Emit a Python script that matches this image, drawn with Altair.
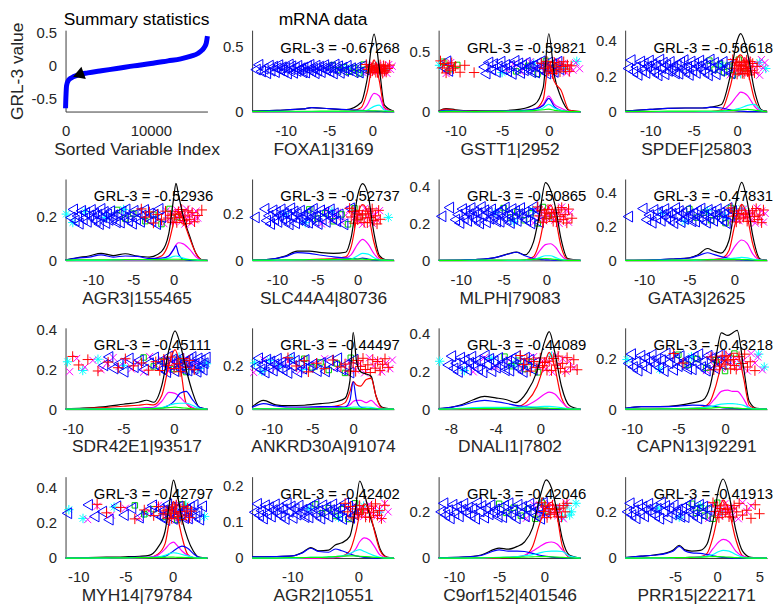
import altair as alt
import pandas as pd

FONT = "Liberation Sans"
TXT = "#262626"

# ---------------- summary panel ----------------
SUM_IDX = [0, 20, 60, 120, 300, 600, 900, 1500, 2600, 4200, 6000, 8000, 10000, 12000, 13500, 14700, 15500, 16000, 16300, 16500, 16630]
SUM_VAL = [-0.64, -0.55, -0.42, -0.30, -0.23, -0.19, -0.17, -0.14, -0.11, -0.078, -0.045, -0.005, 0.03, 0.07, 0.10, 0.14, 0.18, 0.23, 0.28, 0.34, 0.44]
ARROW_IDX = [1500]
ARROW_VAL = [-0.14]

# ---------------- gene panels ----------------
GENES = ["FOXA1|3169", "GSTT1|2952", "SPDEF|25803", "AGR3|155465", "SLC44A4|80736",
         "MLPH|79083", "GATA3|2625", "SDR42E1|93517", "ANKRD30A|91074", "DNALI1|7802",
         "CAPN13|92291", "MYH14|79784", "AGR2|10551", "C9orf152|401546", "PRR15|222171"]
GRL = [-0.67268, -0.59821, -0.56618, -0.52936, -0.52737, -0.50865, -0.47831, -0.45111,
       -0.44497, -0.44089, -0.43218, -0.42797, -0.42402, -0.42046, -0.41913]
XMIN = [-13.9, -11.8, -12.9, -13.4, -13.1, -12.6, -12.1, -10.7, -12.4, -9.1, -10.7, -11.35, -16.1, -11.7, -10.9]
XMAX = [2.5, 3.4, 3.45, 4.2, 4.5, 4.0, 3.6, 3.3, 5.0, 3.6, 4.5, 3.7, 5.4, 4.0, 5.9]
YMAX = [0.63, 0.68, 0.46, 0.37, 0.35, 0.44, 0.48, 0.41, 0.37, 0.43, 0.32, 0.46, 0.225, 0.35, 0.35]
XTICKS = [[-10, -5, 0]] * 9 + [[-8, -4, 0], [-10, -5, 0], [-10, -5, 0], [-10, 0], [-10, -5, 0], [-5, 0, 5]]
YTICKS = [[0, 0.5], [0, 0.5], [0, 0.2, 0.4], [0, 0.2], [0, 0.2], [0, 0.2, 0.4], [0, 0.2, 0.4],
          [0, 0.2, 0.4], [0, 0.2], [0, 0.2, 0.4], [0, 0.2], [0, 0.2, 0.4], [0, 0.1, 0.2], [0, 0.2], [0, 0.2]]

CX = [
    [-13.9, -11, -8, -7, -5, -3, -1.3, -0.6, 0.2, 0.8, 1.4, 2.5],
    [-11.8, -11, -10, -8, -5, -3, -1.5, -0.6, 0, 0.6, 1.3, 2.2, 3.4],
    [-12.9, -10, -8, -6, -4, -3, -1.8, -0.8, 0, 0.4, 1.2, 2.0, 2.8, 3.45],
    [-13.4, -12, -10.5, -9, -7.5, -6, -4.5, -3, -1.5, -0.6, 0, 0.3, 0.6, 1.2, 2.0, 2.8, 3.5, 4.2],
    [-13.1, -11, -9, -7.5, -6, -4.5, -3, -1.5, -0.8, 0, 0.6, 1.3, 2.0, 2.7, 3.5, 4.5],
    [-12.6, -10, -8, -6, -4.5, -3.5, -2.5, -1.5, -0.8, -0.1, 0.5, 1.1, 1.7, 2.5, 4.0],
    [-12.1, -9, -7, -5, -4, -3, -2.3, -1.5, -0.6, 0, 0.8, 1.4, 2.0, 2.8, 3.6],
    [-10.7, -9, -7, -5, -3.5, -2.7, -2, -1.2, -0.5, 0.1, 0.6, 1.2, 1.8, 2.5, 3.3],
    [-12.4, -11, -9.5, -8, -6, -4, -2, -1, -0.4, 0, 0.4, 0.9, 1.6, 2.2, 2.8, 3.5, 5.0],
    [-9.1, -8, -7, -6, -5, -4, -3, -2.2, -1.2, -0.3, 0.4, 0.8, 1.3, 1.9, 2.6, 3.6],
    [-10.7, -9, -7, -5, -3.5, -2.4, -1.6, -1, -0.4, 0.3, 0.8, 1.3, 2.0, 2.6, 3.4, 4.5],
    [-11.35, -9, -7, -5, -3.5, -2.5, -1.6, -0.8, -0.3, 0.1, 0.5, 1.0, 1.6, 2.2, 2.8, 3.7],
    [-16.1, -13, -10, -8.5, -7.2, -6, -4.5, -3.5, -2.5, -1.3, -0.4, 0.2, 0.9, 1.7, 2.5, 3.3, 4.3, 5.4],
    [-11.7, -9, -7, -5, -4, -3, -2.2, -1.3, -0.5, 0.2, 0.8, 1.4, 2.0, 2.8, 4.0],
    [-10.9, -9, -7.5, -6, -5.2, -4.5, -3.8, -3, -2, -1.2, -0.5, 0.2, 0.7, 1.4, 2.2, 3, 4, 5.9],
]
BLACK = [
    [0.003, 0.01, 0.02, 0.03, 0.022, 0.015, 0.07, 0.25, 0.60, 0.34, 0.05, 0.002],
    [0.005, 0.025, 0.015, 0.005, 0.008, 0.02, 0.06, 0.2, 0.65, 0.3, 0.12, 0.01, 0],
    [0.003, 0.012, 0.018, 0.02, 0.02, 0.025, 0.04, 0.2, 0.4, 0.44, 0.33, 0.12, 0.01, 0.002],
    [0.002, 0.012, 0.02, 0.032, 0.022, 0.03, 0.02, 0.015, 0.04, 0.12, 0.28, 0.35, 0.3, 0.2, 0.11, 0.03, 0.003, 0],
    [0.001, 0.004, 0.018, 0.04, 0.04, 0.033, 0.03, 0.035, 0.1, 0.28, 0.33, 0.28, 0.12, 0.02, 0.002, 0],
    [0, 0.002, 0.005, 0.015, 0.035, 0.045, 0.03, 0.1, 0.25, 0.42, 0.38, 0.28, 0.12, 0.01, 0],
    [0, 0.003, 0.008, 0.015, 0.035, 0.07, 0.055, 0.043, 0.12, 0.3, 0.46, 0.35, 0.15, 0.01, 0],
    [0.002, 0.005, 0.012, 0.025, 0.035, 0.045, 0.035, 0.12, 0.3, 0.395, 0.33, 0.2, 0.09, 0.01, 0],
    [0.01, 0.04, 0.02, 0.016, 0.018, 0.025, 0.035, 0.05, 0.13, 0.35, 0.22, 0.17, 0.16, 0.15, 0.06, 0.01, 0],
    [0.003, 0.01, 0.025, 0.05, 0.068, 0.06, 0.05, 0.035, 0.09, 0.2, 0.36, 0.41, 0.3, 0.12, 0.02, 0],
    [0.003, 0.01, 0.01, 0.015, 0.025, 0.035, 0.09, 0.2, 0.3, 0.29, 0.3, 0.31, 0.16, 0.03, 0.003, 0],
    [0.001, 0.003, 0.005, 0.007, 0.01, 0.015, 0.056, 0.15, 0.32, 0.44, 0.36, 0.22, 0.11, 0.04, 0.005, 0],
    [0.003, 0.004, 0.006, 0.015, 0.029, 0.02, 0.022, 0.036, 0.042, 0.06, 0.14, 0.213, 0.18, 0.12, 0.075, 0.025, 0.003, 0],
    [0.002, 0.004, 0.013, 0.043, 0.038, 0.05, 0.069, 0.13, 0.26, 0.336, 0.3, 0.2, 0.08, 0.012, 0],
    [0.002, 0.008, 0.013, 0.022, 0.035, 0.055, 0.035, 0.03, 0.033, 0.06, 0.16, 0.3, 0.34, 0.27, 0.12, 0.03, 0.003, 0],
]
RED = [
    [0, 0, 0, 0, 0, 0, 0.03, 0.15, 0.40, 0.24, 0.03, 0],
    [0.003, 0.02, 0.01, 0.002, 0.002, 0.005, 0.02, 0.1, 0.40, 0.25, 0.18, 0.01, 0],
    [0, 0, 0, 0, 0, 0, 0.01, 0.14, 0.30, 0.32, 0.23, 0.07, 0.005, 0],
    [0, 0, 0, 0, 0, 0.002, 0.003, 0.005, 0.02, 0.08, 0.17, 0.21, 0.22, 0.18, 0.1, 0.03, 0.002, 0],
    [0, 0, 0, 0.002, 0.003, 0.005, 0.008, 0.015, 0.06, 0.2, 0.24, 0.2, 0.08, 0.012, 0.001, 0],
    [0, 0, 0, 0, 0, 0, 0.002, 0.02, 0.1, 0.25, 0.30, 0.22, 0.08, 0.005, 0],
    [0, 0, 0, 0, 0, 0.002, 0.005, 0.01, 0.06, 0.2, 0.33, 0.26, 0.1, 0.005, 0],
    [0.001, 0.003, 0.008, 0.015, 0.02, 0.025, 0.022, 0.07, 0.22, 0.3, 0.22, 0.03, 0.005, 0, 0],
    [0, 0.002, 0.003, 0.004, 0.005, 0.008, 0.015, 0.03, 0.08, 0.125, 0.11, 0.105, 0.135, 0.14, 0.06, 0.005, 0],
    [0, 0, 0.001, 0.002, 0.003, 0.004, 0.006, 0.01, 0.04, 0.12, 0.24, 0.3, 0.22, 0.06, 0.005, 0],
    [0, 0, 0, 0.001, 0.003, 0.008, 0.03, 0.09, 0.17, 0.2, 0.22, 0.22, 0.12, 0.015, 0.001, 0],
    [0, 0, 0, 0.001, 0.002, 0.003, 0.02, 0.08, 0.22, 0.32, 0.24, 0.12, 0.02, 0.002, 0, 0],
    [0, 0, 0, 0, 0, 0, 0.001, 0.002, 0.005, 0.02, 0.07, 0.12, 0.15, 0.13, 0.07, 0.02, 0.002, 0],
    [0, 0, 0, 0.001, 0.002, 0.004, 0.01, 0.05, 0.15, 0.22, 0.24, 0.18, 0.05, 0.003, 0],
    [0, 0, 0, 0, 0.001, 0.001, 0.002, 0.003, 0.005, 0.02, 0.09, 0.2, 0.25, 0.2, 0.08, 0.01, 0, 0],
]
MAGENTA = [
    [0, 0, 0, 0, 0, 0, 0.005, 0.05, 0.14, 0.12, 0.02, 0],
    [0, 0.005, 0.003, 0, 0.002, 0.005, 0.02, 0.06, 0.13, 0.06, 0.03, 0.002, 0],
    [0, 0, 0, 0, 0, 0, 0.005, 0.04, 0.09, 0.11, 0.09, 0.03, 0.002, 0],
    [0, 0, 0, 0, 0, 0, 0, 0.002, 0.005, 0.02, 0.05, 0.07, 0.08, 0.075, 0.05, 0.015, 0.001, 0],
    [0, 0, 0, 0, 0.002, 0.003, 0.005, 0.01, 0.025, 0.07, 0.09, 0.07, 0.03, 0.005, 0, 0],
    [0, 0, 0, 0, 0, 0, 0.002, 0.01, 0.05, 0.085, 0.09, 0.07, 0.03, 0.002, 0],
    [0, 0, 0, 0, 0.002, 0.005, 0.006, 0.008, 0.03, 0.08, 0.12, 0.1, 0.04, 0.003, 0],
    [0, 0, 0.001, 0.003, 0.005, 0.008, 0.01, 0.04, 0.085, 0.08, 0.06, 0.03, 0.01, 0.001, 0],
    [0, 0.002, 0.003, 0.003, 0.004, 0.005, 0.007, 0.01, 0.02, 0.035, 0.04, 0.04, 0.03, 0.04, 0.02, 0.002, 0],
    [0, 0, 0.001, 0.002, 0.004, 0.005, 0.006, 0.008, 0.02, 0.05, 0.08, 0.09, 0.08, 0.04, 0.005, 0],
    [0, 0, 0, 0.001, 0.002, 0.005, 0.02, 0.045, 0.07, 0.075, 0.07, 0.07, 0.04, 0.005, 0, 0],
    [0, 0, 0, 0.001, 0.002, 0.004, 0.015, 0.05, 0.08, 0.09, 0.07, 0.04, 0.015, 0.003, 0, 0],
    [0, 0, 0, 0, 0, 0, 0.001, 0.002, 0.004, 0.01, 0.025, 0.045, 0.056, 0.05, 0.03, 0.008, 0.001, 0],
    [0, 0, 0, 0.002, 0.003, 0.006, 0.012, 0.03, 0.05, 0.065, 0.069, 0.06, 0.035, 0.005, 0],
    [0, 0, 0, 0, 0.001, 0.002, 0.002, 0.003, 0.005, 0.01, 0.04, 0.07, 0.08, 0.07, 0.03, 0.008, 0.001, 0],
]
BLUE = [
    [0.003, 0.01, 0.02, 0.03, 0.022, 0.015, 0.01, 0.004, 0.002, 0.001, 0, 0],
    [0.002, 0.01, 0.005, 0.002, 0.003, 0.008, 0.02, 0.05, 0.11, 0.04, 0.01, 0, 0],
    [0.003, 0.012, 0.018, 0.02, 0.02, 0.025, 0.02, 0.01, 0.004, 0.002, 0, 0, 0, 0],
    [0.002, 0.01, 0.015, 0.025, 0.015, 0.02, 0.018, 0.008, 0.01, 0.02, 0.05, 0.067, 0.03, 0.005, 0, 0, 0, 0],
    [0.001, 0.004, 0.016, 0.033, 0.03, 0.022, 0.015, 0.01, 0.008, 0.006, 0.01, 0.006, 0.002, 0, 0, 0],
    [0, 0.002, 0.005, 0.015, 0.033, 0.044, 0.025, 0.01, 0.005, 0.003, 0.002, 0.001, 0, 0, 0],
    [0, 0.003, 0.008, 0.014, 0.028, 0.045, 0.035, 0.022, 0.012, 0.006, 0.003, 0.001, 0, 0, 0],
    [0, 0, 0.001, 0.002, 0.003, 0.004, 0.004, 0.006, 0.02, 0.045, 0.08, 0.09, 0.05, 0.01, 0],
    [0.008, 0.025, 0.015, 0.01, 0.01, 0.012, 0.012, 0.01, 0.04, 0.125, 0.04, 0.01, 0.004, 0.002, 0.001, 0, 0],
    [0.003, 0.01, 0.02, 0.038, 0.047, 0.04, 0.03, 0.02, 0.012, 0.006, 0.003, 0.002, 0.001, 0, 0, 0],
    [0.003, 0.01, 0.01, 0.012, 0.016, 0.015, 0.012, 0.01, 0.006, 0.004, 0.003, 0.002, 0.001, 0, 0, 0],
    [0, 0.001, 0.002, 0.003, 0.004, 0.004, 0.006, 0.01, 0.025, 0.04, 0.055, 0.067, 0.055, 0.025, 0.004, 0],
    [0.003, 0.004, 0.006, 0.014, 0.027, 0.018, 0.016, 0.025, 0.02, 0.012, 0.006, 0.004, 0.002, 0.001, 0, 0, 0, 0],
    [0.002, 0.004, 0.011, 0.035, 0.03, 0.03, 0.028, 0.02, 0.012, 0.007, 0.004, 0.002, 0.001, 0, 0],
    [0.002, 0.008, 0.012, 0.02, 0.03, 0.05, 0.03, 0.022, 0.02, 0.015, 0.01, 0.005, 0.003, 0.001, 0, 0, 0, 0],
]
CYAN = [
    [0, 0, 0, 0, 0, 0, 0.002, 0.01, 0.04, 0.05, 0.01, 0],
    [0, 0.002, 0.001, 0, 0.001, 0.003, 0.01, 0.03, 0.06, 0.03, 0.01, 0, 0],
    [0, 0, 0, 0, 0, 0, 0.001, 0.005, 0.015, 0.02, 0.035, 0.04, 0.005, 0],
    [0, 0, 0, 0, 0.002, 0.003, 0.003, 0.003, 0.005, 0.01, 0.018, 0.02, 0.018, 0.01, 0.004, 0.001, 0, 0],
    [0, 0, 0.001, 0.002, 0.003, 0.003, 0.003, 0.004, 0.006, 0.02, 0.03, 0.027, 0.012, 0.002, 0, 0],
    [0, 0, 0, 0, 0, 0, 0.001, 0.005, 0.015, 0.025, 0.025, 0.015, 0.005, 0, 0],
    [0, 0, 0, 0, 0.001, 0.004, 0.005, 0.006, 0.01, 0.013, 0.018, 0.015, 0.008, 0.001, 0],
    [0, 0, 0, 0.001, 0.002, 0.003, 0.004, 0.008, 0.02, 0.028, 0.03, 0.03, 0.02, 0.004, 0],
    [0, 0.002, 0.003, 0.003, 0.003, 0.004, 0.004, 0.006, 0.008, 0.01, 0.01, 0.01, 0.01, 0.008, 0.004, 0.001, 0],
    [0, 0.002, 0.005, 0.008, 0.01, 0.01, 0.01, 0.01, 0.012, 0.013, 0.015, 0.015, 0.013, 0.008, 0.002, 0],
    [0, 0, 0.001, 0.002, 0.004, 0.006, 0.01, 0.015, 0.02, 0.022, 0.022, 0.02, 0.015, 0.005, 0.001, 0],
    [0, 0, 0, 0.001, 0.002, 0.003, 0.006, 0.015, 0.025, 0.03, 0.027, 0.02, 0.012, 0.004, 0, 0],
    [0, 0, 0, 0.001, 0.002, 0.002, 0.003, 0.004, 0.006, 0.012, 0.02, 0.023, 0.018, 0.012, 0.006, 0.002, 0, 0],
    [0, 0, 0.001, 0.003, 0.004, 0.006, 0.01, 0.015, 0.022, 0.028, 0.03, 0.03, 0.028, 0.008, 0],
    [0, 0, 0, 0.001, 0.001, 0.002, 0.002, 0.003, 0.004, 0.008, 0.015, 0.028, 0.033, 0.03, 0.015, 0.004, 0, 0],
]
GREEN = [
    [0.001, 0.002, 0.002, 0.002, 0.003, 0.003, 0.005, 0.006, 0.005, 0.004, 0.002, 0.001],
    [0, 0.001, 0.001, 0, 0.002, 0.004, 0.008, 0.015, 0.02, 0.01, 0.004, 0, 0],
    [0.001, 0.001, 0.002, 0.002, 0.003, 0.003, 0.004, 0.006, 0.008, 0.01, 0.012, 0.008, 0.002, 0],
    [0.001, 0.002, 0.002, 0.002, 0.002, 0.003, 0.003, 0.003, 0.004, 0.005, 0.005, 0.005, 0.005, 0.004, 0.003, 0.002, 0.001, 0],
    [0.001, 0.001, 0.002, 0.002, 0.003, 0.003, 0.004, 0.004, 0.005, 0.005, 0.005, 0.004, 0.003, 0.002, 0.001, 0],
    [0, 0, 0.001, 0.001, 0.002, 0.002, 0.003, 0.005, 0.008, 0.01, 0.008, 0.005, 0.002, 0, 0],
    [0, 0, 0.001, 0.002, 0.003, 0.004, 0.005, 0.005, 0.006, 0.006, 0.005, 0.004, 0.002, 0, 0],
    [0, 0, 0, 0.001, 0.002, 0.002, 0.003, 0.005, 0.008, 0.01, 0.008, 0.005, 0.002, 0, 0],
    [0.001, 0.002, 0.002, 0.002, 0.002, 0.003, 0.003, 0.004, 0.004, 0.004, 0.004, 0.003, 0.003, 0.002, 0.002, 0.001, 0],
    [0, 0.001, 0.002, 0.003, 0.004, 0.004, 0.004, 0.005, 0.005, 0.006, 0.006, 0.005, 0.004, 0.002, 0, 0],
    [0, 0, 0.001, 0.001, 0.002, 0.003, 0.004, 0.006, 0.007, 0.006, 0.005, 0.004, 0.002, 0.001, 0, 0],
    [0, 0, 0.001, 0.001, 0.002, 0.002, 0.003, 0.004, 0.005, 0.005, 0.004, 0.004, 0.003, 0.001, 0, 0],
    [0, 0, 0.001, 0.001, 0.002, 0.002, 0.003, 0.004, 0.005, 0.006, 0.006, 0.005, 0.004, 0.003, 0.002, 0.001, 0, 0],
    [0, 0, 0.001, 0.002, 0.003, 0.003, 0.004, 0.005, 0.006, 0.006, 0.005, 0.004, 0.003, 0.001, 0],
    [0, 0, 0.001, 0.001, 0.002, 0.002, 0.002, 0.003, 0.004, 0.005, 0.006, 0.006, 0.005, 0.004, 0.002, 0.001, 0, 0],
]

# marker bands: centre height and half-spread per panel
MK_Y = [0.33, 0.37, 0.25, 0.20, 0.19, 0.245, 0.265, 0.227, 0.20, 0.24, 0.185, 0.26, 0.13, 0.204, 0.204]
MK_S = [0.035, 0.055, 0.045, 0.035, 0.035, 0.045, 0.045, 0.04, 0.035, 0.045, 0.035, 0.045, 0.022, 0.035, 0.035]
JITTER = [0.3, -0.8, 0.62, -0.15, 0.9, -0.55, 0.05, -0.95, 0.72, -0.38, 0.48, -0.7, 0.12, 0.84, -0.28,
          0.36, -0.62, 0.22, -1.0, 0.97, -0.1, 0.58, -0.86, 0.26, -0.45, 0.68, -0.22, 0.15, -0.76]

TRI_X = [
    [-13.5, -13.2, -12.9, -12.6, -12.3, -12.0, -11.8, -11.5, -11.3, -11.1, -10.9, -10.7, -10.5, -10.3, -10.1, -9.9, -9.7, -9.5, -9.4, -9.2, -9.0, -8.8, -8.7, -8.5, -8.3, -8.1, -8.0, -7.8, -7.6, -7.4, -7.3, -7.1, -6.9, -6.7, -6.6, -6.4, -6.2, -6.0, -5.8, -5.6, -5.4, -5.2, -5.0, -4.8, -4.6, -4.4, -4.2, -4.0, -3.8, -3.5, -3.3, -3.0, -2.8, -2.5, -2.2, -1.9, -1.6, -1.2, -0.9],
    [-11.2, -11.0, -10.8, -7.0, -6.8, -6.5, -6.2, -6.0, -5.7, -5.5, -5.2, -5.0, -4.7, -4.5, -4.2, -4.0, -3.7, -3.5, -3.3, -3.1, -2.9, -2.7, -2.5, -2.3, -2.1, -1.9, -1.7, -1.5, -1.3, -1.1, -0.9, -0.7, -0.5, -0.3, -0.1, 0.1, 0.3, 0.5, 0.7, 0.9, 1.1],
    [-12.6, -12.3, -12.0, -11.7, -11.5, -11.2, -11.0, -10.8, -10.6, -10.4, -10.2, -10.0, -9.8, -9.6, -9.4, -9.2, -9.0, -8.8, -8.6, -8.4, -8.2, -8.0, -7.8, -7.6, -7.4, -7.2, -7.0, -6.8, -6.6, -6.4, -6.2, -6.0, -5.8, -5.6, -5.4, -5.2, -5.0, -4.8, -4.6, -4.4, -4.2, -4.0, -3.8, -3.6, -3.4, -3.2, -3.0, -2.7, -2.5, -2.2, -2.0, -1.7, -1.4, -1.1, -0.8],
    [-12.8, -12.5, -12.3, -12.0, -11.8, -11.5, -11.3, -11.0, -10.8, -10.5, -10.3, -10.1, -9.9, -9.7, -9.5, -9.3, -9.1, -8.9, -8.7, -8.5, -8.3, -8.1, -7.9, -7.7, -7.5, -7.2, -7.0, -6.7, -6.5, -6.2, -6.0, -5.7, -5.5, -5.2, -5.0, -4.7, -4.5, -4.2, -4.0, -3.7, -3.4, -3.1, -2.8, -2.5, -2.2, -1.9, -1.6],
    [-12.8, -11.6, -11.4, -11.1, -10.9, -10.6, -10.4, -10.2, -10.0, -9.8, -9.6, -9.4, -9.2, -9.0, -8.8, -8.6, -8.4, -8.2, -8.0, -7.8, -7.6, -7.4, -7.2, -7.0, -6.8, -6.6, -6.4, -6.2, -6.0, -5.8, -5.6, -5.4, -5.2, -5.0, -4.7, -4.5, -4.2, -4.0, -3.7, -3.5, -3.2, -3.0, -2.7, -2.4, -1.8, -1.0],
    [-12.3, -11.4, -10.7, -10.4, -10.2, -9.9, -9.7, -9.5, -9.3, -9.1, -8.9, -8.7, -8.5, -8.3, -8.1, -7.9, -7.7, -7.5, -7.3, -7.1, -6.9, -6.7, -6.5, -6.3, -6.1, -5.9, -5.7, -5.5, -5.3, -5.1, -4.9, -4.7, -4.5, -4.3, -4.1, -3.9, -3.7, -3.5, -3.3, -3.1, -2.9, -2.6, -2.4, -2.1, -1.9, -1.6, -1.4, -1.1, -0.9],
    [-11.8, -10.2, -9.8, -9.5, -9.2, -9.0, -8.7, -8.5, -8.2, -8.0, -7.8, -7.6, -7.4, -7.2, -7.0, -6.8, -6.6, -6.4, -6.2, -6.0, -5.8, -5.6, -5.4, -5.2, -5.0, -4.8, -4.6, -4.4, -4.2, -4.0, -3.8, -3.6, -3.4, -3.2, -3.0, -2.8, -2.6, -2.4, -2.2, -2.0, -1.8, -1.6, -1.4, -1.2, -1.0, -0.8, -0.5, -0.3],
    [-7.0, -6.5, -6.0, -5.5, -5.0, -4.5, -4.0, -3.5, -3.0, -2.5, -2.0, -1.6, -1.4, -1.2, -1.0, -0.8, -0.6, -0.4, -0.2, 0.0, 0.2, 0.4, 0.5, 0.7, 0.8, 1.0, 1.1, 1.3, 1.4, 1.6, 1.7, 1.9, 2.0, 2.2, 2.3, 2.5, 2.6, 2.8, 2.9, 3.1],
    [-12.0, -11.7, -11.4, -11.2, -10.9, -10.7, -10.4, -10.2, -9.9, -9.7, -9.4, -9.2, -8.9, -8.7, -8.4, -8.1, -7.8, -7.5, -7.2, -6.9, -6.6, -6.3, -6.0, -5.5, -5.0, -4.5, -4.0, -3.5, -3.0, -2.5, -2.0, -1.5, -1.0, -0.5, 0.0],
    [-8.3, -8.0, -7.8, -7.6, -7.4, -7.2, -7.0, -6.8, -6.6, -6.4, -6.2, -6.0, -5.8, -5.6, -5.4, -5.2, -5.0, -4.8, -4.6, -4.4, -4.2, -4.0, -3.8, -3.6, -3.4, -3.2, -3.0, -2.8, -2.6, -2.4, -2.2, -2.0, -1.8, -1.6, -1.4, -1.2, -1.0, -0.7, -0.5],
    [-10.4, -10.1, -9.9, -9.6, -9.4, -9.1, -8.9, -8.6, -8.4, -8.1, -7.9, -7.6, -7.4, -7.1, -6.9, -6.6, -6.4, -6.1, -5.9, -5.6, -5.4, -5.1, -4.9, -4.6, -4.4, -4.1, -3.9, -3.6, -3.4, -3.1, -2.9, -2.6, -2.4, -2.1, -1.9, -1.6, -1.4, -1.1, -0.9, -0.6, -0.4, 0.1],
    [-11.2, -9.0, -8.3, -7.5, -6.8, -6.0, -5.2, -4.4, -3.6, -2.8, -2.2, -1.8, -1.4, -1.2, -1.0, -0.8, -0.6, -0.4, -0.2, 0.0, 0.2, 0.4, 0.6, 0.8, 1.0, 1.2, 1.4, 1.6, 1.8, 2.0, 2.2, 2.4, 2.6, 2.8, 3.1],
    [-15.8, -15.4, -15.1, -14.8, -14.5, -14.2, -13.9, -13.6, -13.3, -13.0, -12.7, -12.4, -12.1, -11.8, -11.5, -11.2, -10.9, -10.6, -10.3, -10.0, -9.7, -9.4, -9.1, -8.8, -8.5, -8.2, -7.9, -7.6, -7.3, -7.0, -6.7, -6.4, -6.1, -5.8, -5.5, -5.2, -4.9, -4.6, -4.3, -4.0, -3.7, -3.4, -3.1, -2.8, -2.5, -2.2, -1.9, -1.6, -1.3, -1.0, -0.7],
    [-11.5, -11.2, -11.0, -10.7, -10.5, -10.2, -10.0, -9.7, -9.5, -9.2, -9.0, -8.7, -8.5, -8.2, -8.0, -7.7, -7.5, -7.2, -7.0, -6.7, -6.5, -6.2, -6.0, -5.7, -5.5, -5.2, -5.0, -4.7, -4.5, -4.2, -4.0, -3.7, -3.5, -3.2, -3.0, -2.7, -2.5, -2.2, -2.0, -1.7, -1.5, -1.2, -1.0, -0.7, -0.5, -0.2, 0.0],
    [-10.7, -10.4, -10.2, -9.9, -9.7, -9.4, -9.2, -8.9, -8.7, -8.4, -8.2, -7.9, -7.7, -7.4, -7.2, -6.9, -6.7, -6.4, -6.2, -5.9, -5.7, -5.4, -5.2, -4.9, -4.7, -4.4, -4.2, -3.9, -3.7, -3.4, -3.2, -2.9, -2.7, -2.4, -2.2, -1.9, -1.7, -1.4, -1.2],
]
PLUS_X = [
    [-0.7, -0.5, -0.3, -0.2, -0.1, 0.0, 0.1, 0.2, 0.3, 0.4, 0.5, 0.6, 0.7, 0.8, 0.9, 1.0, 1.1, 1.2, 1.3, 1.4, 1.5, 1.6, 1.8, 2.0],
    [-11.6, -11.4, -11.2, -11.0, -10.8, -10.6, -10.4, -10.2, -10.0, -9.5, -9.0, -8.0, -0.8, -0.5, -0.2, 0.0, 0.2, 0.4, 0.6, 0.8, 1.0, 1.2, 1.4, 1.6, 1.8, 2.0, 2.2, 2.4],
    [-0.5, -0.3, -0.1, 0.0, 0.1, 0.2, 0.3, 0.4, 0.5, 0.6, 0.7, 0.8, 0.9, 1.0, 1.1, 1.2, 1.3, 1.4, 1.5, 1.6, 1.8, 2.0, 2.3],
    [-4.0, -3.5, -3.0, -2.5, -2.0, -1.5, -1.0, -0.7, -0.4, -0.1, 0.2, 0.4, 0.6, 0.8, 1.0, 1.2, 1.4, 1.6, 1.8, 2.0, 2.3, 2.6, 3.0, 3.5],
    [-1.0, -0.8, -0.6, -0.4, -0.2, 0.0, 0.2, 0.4, 0.6, 0.8, 1.0, 1.2, 1.4, 1.6, 1.8, 2.0, 2.2, 2.4, 2.6, 2.8],
    [-1.0, -0.8, -0.6, -0.4, -0.2, 0.0, 0.2, 0.4, 0.6, 0.8, 1.0, 1.2, 1.4, 1.6, 1.8, 2.0, 2.2, 2.4, 2.6, 3.0],
    [-0.4, -0.2, 0.0, 0.2, 0.4, 0.6, 0.8, 1.0, 1.2, 1.4, 1.6, 1.8, 2.0, 2.2, 2.4, 2.6, 2.8, 3.0, 3.2],
    [-10.0, -9.4, -8.5, -7.5, -6.5, -5.5, -4.8, -4.0, -3.2, -2.5, -1.8, -1.4, -1.0, -0.6, -0.3, 0.0, 0.3, 0.6, 0.9, 1.2, 1.5, 2.0],
    [-8.0, -7.0, -6.0, -5.5, -4.5, -3.5, -2.5, -1.5, -1.0, -0.5, 0.0, 0.3, 0.6, 0.9, 1.2, 1.5, 1.8, 2.1, 2.4, 2.7, 3.0, 3.3, 3.6, 3.9, 4.3],
    [-1.8, -1.5, -1.2, -0.9, -0.6, -0.3, 0.0, 0.2, 0.4, 0.6, 0.8, 1.0, 1.2, 1.4, 1.6, 1.8, 2.0, 2.2, 2.4, 2.7, 3.0, 3.3],
    [-5.5, -4.5, -1.5, -1.2, -0.9, -0.6, -0.3, 0.0, 0.3, 0.6, 0.9, 1.2, 1.5, 1.8, 2.1, 2.4, 2.7, 3.2, 0.1, 1.0],
    [-8.0, -7.0, -5.5, -4.0, -3.0, -2.0, -1.5, -1.0, -0.7, -0.5, -0.3, -0.1, 0.0, 0.2, 0.4, 0.6, 0.8, 1.0, 1.2, 1.4, 1.6, 1.8, 2.0],
    [-2.0, -1.6, -1.2, -0.8, -0.4, -0.1, 0.2, 0.5, 0.8, 1.1, 1.4, 1.7, 2.0, 2.3, 2.6, 2.9, 3.2, 3.5, 4.0],
    [-0.3, -0.1, 0.1, 0.3, 0.5, 0.7, 0.9, 1.1, 1.3, 1.5, 1.7, 1.9, 2.1, 2.3, 2.5],
    [-0.5, -0.2, 0.0, 0.2, 0.4, 0.6, 0.8, 1.0, 1.2, 1.4, 1.6, 1.8, 2.0, 2.3, 2.6, 3.0, 3.5, 4.0, 4.5, 5.0],
]
XM_X = [
    [-1.0, -0.6, -0.2, 0.1, 0.3, 0.5, 0.7, 0.9, 1.1, 1.3, 1.5, 1.7, 1.9, 2.1, 2.3],
    [-11.0, -10.5, -4.5, -3.8, -3.0, -2.5, -2.0, -1.5, -1.0, -0.5, 0.2, 0.6, 0.9, 1.2, 1.5, 1.9, 2.2, 2.6, 2.9, 3.3],
    [-0.8, -0.4, 0.0, 0.3, 0.6, 0.9, 1.2, 1.5, 1.8, 2.1, 2.4, 2.6, 2.8, 3.0, 3.2],
    [-1.2, -0.9, -0.6, -0.3, 0.0, 0.2, 0.4, 0.6, 0.8, 1.0, 1.2, 1.4, 1.6, 1.8, 2.0, 2.2, 2.4, 2.6, 2.8, 3.0],
    [-4.5, -3.8, -3.2, -2.5, -2.0, -1.5, -1.0, -0.5, -0.2, 0.1, 0.3, 0.6, 0.9, 1.2, 1.5, 1.8, 2.1, 2.4, 2.7],
    [-1.5, -1.2, -0.9, -0.6, -0.3, 0.0, 0.3, 0.5, 0.8, 1.0, 1.3, 1.5, 1.8, 2.0, 2.3, 2.6, 2.8],
    [-0.6, -0.3, 0.0, 0.3, 0.5, 0.8, 1.0, 1.2, 1.5, 1.8, 2.0, 2.3, 2.5, 2.8, 3.0, 3.2, 3.4],
    [-10.3, -9.6, -8.8, -8.0, -7.2, -6.6, -6.0, -5.4, -4.8, -4.2, -3.6, -3.0, -2.4, -1.8, -1.2, -0.6, 0.0, 0.6, 1.2, 1.7, 2.2],
    [-12.2, -11.0, -9.5, -8.0, -6.5, -5.0, -3.5, -2.0, -0.5, 0.3, 0.8, 1.4, 2.0, 2.5, 3.0, 3.5, 4.0, 4.5, 4.8],
    [-6.0, -5.0, -4.0, -2.8, -1.6, -1.0, -0.6, -0.2, 0.2, 0.5, 0.8, 1.1, 1.4, 1.7, 2.0, 2.3, 2.6, 3.0],
    [-2.0, -1.6, -1.2, -0.8, -0.4, 0.0, 0.4, 0.8, 1.2, 1.6, 2.0, 2.4, 2.8, 3.2, 3.5, 4.0],
    [-9.0, -8.0, -6.5, -5.0, -3.5, -2.5, -1.5, -1.0, -0.5, -0.2, 0.1, 0.4, 0.7, 1.0, 1.4, 1.8],
    [-1.0, -0.5, 0.0, 0.4, 0.8, 1.2, 1.6, 2.0, 2.4, 2.8, 3.2, 3.6, 4.0, 4.5],
    [-2.0, -1.2, -0.8, -0.4, 0.0, 0.3, 0.6, 0.9, 1.2, 1.5, 1.8, 2.1, 2.4],
    [-1.0, -0.6, -0.3, 0.0, 0.3, 0.6, 0.9, 1.2, 1.5, 1.8, 2.1, 2.5, 3.0, 3.5, 4.0],
]
SQ_X = [
    [-4.6, -3.9, -3.3, -2.7, -2.1, -1.5, -1.0, -0.4],
    [-11.3, -10.6, -9.8, -3.5, -2.2, -1.2, -0.3, 0.5],
    [-3.2, -2.6, -2.0, -1.5, -1.0, -0.5, 0.2, 0.8],
    [-7.0, -6.0, -5.0, -3.5, -2.5, -1.5, -0.5, 0.4],
    [-6.0, -5.0, -4.0, -3.0, -2.0, -1.2, -0.4, 0.3],
    [-5.0, -4.2, -3.4, -2.6, -1.8, -1.0, -0.4, 0.2],
    [-5.0, -4.2, -3.4, -2.6, -1.8, -1.0, -0.4, 0.2],
    [-3.0, -2.0, -1.0, 0.0, 0.6, 1.2],
    [-6.0, -5.0, -4.0, -3.0, -2.0, -1.0, -0.3],
    [-3.2, -2.6, -2.0, -1.4, -0.8, -0.2],
    [-5.0, -4.0, -3.0, -2.0, -1.0, 0.0, 1.0],
    [-4.0, -3.0, -2.0, -1.0, -0.2, 0.5, 1.0],
    [-6.5, -5.5, -4.5, -3.5, -2.5, -1.5, -0.5, 0.2],
    [-5.0, -4.2, -3.4, -2.6, -1.8, -1.0, -0.3, 0.4],
    [-3.0, -2.5, -2.0, -1.5, -1.0, -0.5, 0.0],
]
STAR_X = [
    [-3.0, -1.2, 0.5, 1.5],
    [-11.7, -5.0, -1.6, 1.8, 3.0],
    [-1.8, 0.4, 2.6, 3.3],
    [-13.3, -12.5, -11.0, -8.5, -6.2],
    [-9.0, -6.5, -3.2, 3.8],
    [-6.0, -3.8, -1.6, 0.6],
    [-8.0, -5.5, -3.0, -1.0, 0.8],
    [-10.5, -9.0, -7.5, -5.0, 0.5, 2.5, 3.2],
    [-12.1, -11.2, -10.2, -9.2, -7.6, -6.3],
    [-9.0, -6.8, -4.4, -2.4, 1.0],
    [-10.5, -7.0, -3.6, 1.6, 3.6, 4.2],
    [-11.0, -9.5, -6.2, -3.0, 1.4, 3.4],
    [-7.5, -3.0, 0.8, 3.2],
    [1.5, 2.0, 2.5, 3.0, 3.5, 2.8],
    [-7.0, -4.5, -2.0, 0.5],
]

# ---------------- styling ----------------
PLUS = "M-1,0L1,0M0,-1L0,1"
XSHAPE = "M-0.75,-0.75L0.75,0.75M-0.75,0.75L0.75,-0.75"
STAR = "M-1,0L1,0M0,-1L0,1M-0.7,-0.7L0.7,0.7M-0.7,0.7L0.7,-0.7"
MARKERS = [
    (STAR_X, STAR, "#00FFFF", 90, 0),
    (XM_X, XSHAPE, "#FF00FF", 90, 7),
    (SQ_X, "square", "#00CC00", 30, 13),
    (TRI_X, "triangle-left", "#0000FF", 120, 3),
    (PLUS_X, PLUS, "#FF0000", 110, 19),
]
CURVES = [(BLACK, "#000000"), (RED, "#FF0000"), (MAGENTA, "#FF00FF"),
          (BLUE, "#0000FF"), (CYAN, "#00FFFF"), (GREEN, "#00FF00")]
LBL = "toString(datum.value)"
W, H = 143, 82


def title_mark(text):
    return alt.Chart(pd.DataFrame({"t": [text]})).mark_text(
        align="center", baseline="alphabetic", font=FONT, fontSize=17.5, color="#000000"
    ).encode(x=alt.value(W / 2), y=alt.value(-5.5), text="t:N")


def summary_panel():
    sx = alt.Scale(domain=[0, 16630], nice=False, zero=False)
    sy = alt.Scale(domain=[-0.69, 0.53], nice=False, zero=False)
    xax = alt.Axis(values=[0, 10000], title="Sorted Variable Index", labelExpr=LBL)
    yax = alt.Axis(values=[-0.5, 0, 0.5], title="GRL-3 value", labelExpr=LBL)
    line = alt.Chart(pd.DataFrame({"idx": SUM_IDX, "val": SUM_VAL})).mark_line(
        color="#0000FF", strokeWidth=5, interpolate="monotone"
    ).encode(x=alt.X("idx:Q", scale=sx, axis=xax), y=alt.Y("val:Q", scale=sy, axis=yax))
    head = alt.Chart(pd.DataFrame({"idx": ARROW_IDX, "val": ARROW_VAL})).mark_point(
        shape="triangle-left", filled=True, color="#000000", size=170, angle=340, opacity=1
    ).encode(x=alt.X("idx:Q", scale=sx, axis=xax), y=alt.Y("val:Q", scale=sy, axis=yax))
    return alt.layer(line, head, title_mark("Summary statistics")).properties(width=W, height=H)


def gene_panel(i):
    sx = alt.Scale(domain=[XMIN[i], XMAX[i]], nice=False, zero=False)
    sy = alt.Scale(domain=[0, YMAX[i]], nice=False, zero=False)
    xax = alt.Axis(values=XTICKS[i], title=GENES[i], labelExpr=LBL)
    yax = alt.Axis(values=YTICKS[i], title=None, labelExpr=LBL)
    layers = []
    for lists, shape, color, size, off in MARKERS:
        xs = lists[i]
        ys = [MK_Y[i] + MK_S[i] * JITTER[(j + off) % len(JITTER)] for j in range(len(xs))]
        df = pd.DataFrame({"x": xs, "y": ys})
        layers.append(
            alt.Chart(df).mark_point(shape=shape, filled=False, color=color, size=size,
                                     strokeWidth=1, opacity=1, clip=False)
            .encode(x=alt.X("x:Q", scale=sx, axis=xax), y=alt.Y("y:Q", scale=sy, axis=yax))
        )
    for arr, color in CURVES:
        df = pd.DataFrame({"x": CX[i], "y": arr[i]})
        layers.append(
            alt.Chart(df).mark_line(color=color, strokeWidth=1.2, interpolate="monotone")
            .encode(x=alt.X("x:Q", scale=sx, axis=xax), y=alt.Y("y:Q", scale=sy, axis=yax))
        )
    label = pd.DataFrame({"t": ["GRL-3 = %.5f" % GRL[i]]})
    layers.append(
        alt.Chart(label).mark_text(align="left", baseline="middle", font=FONT, fontSize=15,
                                   color="#000000")
        .encode(x=alt.value(28.5), y=alt.value(17.5), text="t:N")
    )
    if i == 0:
        layers.append(title_mark("mRNA data"))
    return alt.layer(*layers).properties(width=W, height=H)


panels = [summary_panel()] + [gene_panel(i) for i in range(len(GENES))]

chart = alt.concat(*panels, columns=4, spacing={"row": 68, "column": 45}, bounds="flush").properties(
    padding={"left": 0, "top": 0, "right": 0, "bottom": 0}
).configure_view(stroke=None).configure_axis(
    domainColor="#3a3a3a", domainWidth=1, ticks=False, grid=False,
    labelFont=FONT, labelFontSize=15, labelColor=TXT,
    titleFont=FONT, titleFontSize=17.5, titleFontWeight="normal", titleColor=TXT,
    labelFlush=False, labelOverlap=False,
).configure_axisX(labelPadding=12, titlePadding=2).configure_axisY(labelPadding=9, titlePadding=5)

chart.save("out.html", embed_options={"renderer": "svg", "actions": False})
